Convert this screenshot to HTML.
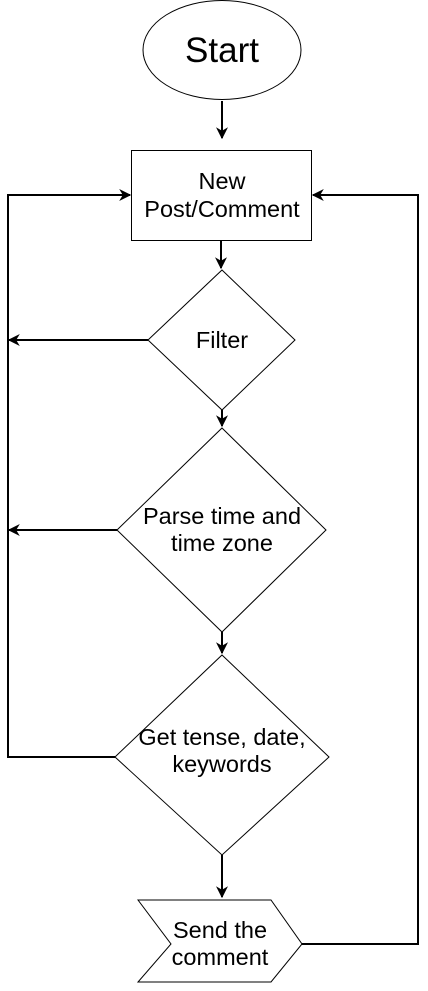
<!DOCTYPE html>
<html><head><style>html,body{margin:0;padding:0;background:#fff;}svg{display:block}</style></head>
<body>
<svg width="428" height="991" viewBox="0 0 428 991" xmlns="http://www.w3.org/2000/svg" font-family="Liberation Sans, sans-serif">
<defs>
<marker id="b" viewBox="0 0 10 10" refX="9" refY="5" markerWidth="12" markerHeight="12" orient="auto" markerUnits="userSpaceOnUse"><path d="M0,0 L10,5 L0,10 L3,5 z" fill="#000"/></marker></defs>
<g fill="#fff" stroke="#000" stroke-width="1">
<ellipse cx="222" cy="50" rx="79" ry="49.5"/>
<rect x="131.5" y="150.5" width="180" height="90"/>
<polygon points="222,270 295,340 222,410 148,340"/>
<polygon points="222,428 326,530 222,632 117,530"/>
<polygon points="222,655 329,757 222,855 115,757"/>
<polygon points="138,900 271,900 302,944 271,982 138,982 171,944"/>
</g>
<g fill="none" stroke="#000" stroke-width="2">
<path d="M222,101 V138" marker-end="url(#b)"/>
<path d="M221,241 V268" marker-end="url(#b)"/>
<path d="M222,410 V426" marker-end="url(#b)"/>
<path d="M222,632 V653" marker-end="url(#b)"/>
<path d="M222,855 V897" marker-end="url(#b)"/>
<path d="M148,340 H9" marker-end="url(#b)"/>
<path d="M117,530 H9" marker-end="url(#b)"/>
<path d="M115,757 H8 V195 H130" marker-end="url(#b)"/>
<path d="M302,944 H418 V195 H313" marker-end="url(#b)"/>
</g>
<g fill="#000" text-anchor="middle" font-size="23.5">
<text x="222" y="62" font-size="35">Start</text>
<text x="222" y="189">New</text>
<text x="222" y="217">Post/Comment</text>
<text x="222" y="348">Filter</text>
<text x="222" y="524">Parse time and</text>
<text x="222" y="551">time zone</text>
<text x="222" y="745">Get tense, date,</text>
<text x="222" y="772">keywords</text>
<text x="220" y="938">Send the</text>
<text x="220" y="965">comment</text>
</g>
</svg>
</body></html>
